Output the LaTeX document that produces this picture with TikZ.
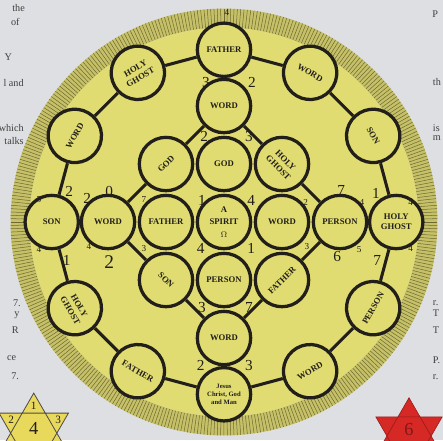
\documentclass[tikz,border=0pt]{standalone}
\usepackage{fontspec}
\setmainfont{Liberation Serif}
\definecolor{page}{RGB}{222,223,226}
\definecolor{disc}{RGB}{224,220,114}
\definecolor{band}{RGB}{198,193,104}
\definecolor{hatch}{RGB}{110,106,48}
\definecolor{ink}{RGB}{34,31,26}
\definecolor{staryel}{RGB}{232,216,92}
\definecolor{starred}{RGB}{214,40,36}
\begin{document}
\begin{tikzpicture}[x=2cm, y=2cm,
  ring/.style={circle, draw=ink, line width=3.2pt, fill=disc,
               minimum size=1.84cm, inner sep=0pt, align=center,
               text=ink, font=\fontsize{8.5}{10}\selectfont\bfseries},
  link/.style={draw=ink, line width=3pt},
  num/.style={inner sep=0pt, text=ink, font=\fontsize{15}{15}\selectfont},
  numsm/.style={inner sep=0pt, text=ink, font=\fontsize{9}{9}\selectfont},
  numbig/.style={inner sep=0pt, text=ink, font=\fontsize{19}{19}\selectfont},
  margin/.style={inner sep=0pt, text=black!75, font=\fontsize{10}{10}\selectfont}
]
  % page and frame
  \fill[page] (-3.862,-3.759) rectangle (3.776,3.828);
  \useasboundingbox (-3.862,-3.759) rectangle (3.776,3.828);
  \fill[band, even odd rule] (0,0) circle (3.68) (0,0) circle (3.35);
  \foreach \a in {0,0.9,...,359.1}
    \draw[hatch, line width=0.5pt] (\a:3.36) -- (\a:3.68);
  \fill[disc] (0,0) circle (3.35);

  % outer ring
  \node[ring] (father1) at (90:2.97) {FATHER};
  \node[ring, rotate=-30] (word1) at (60:2.97) {WORD};
  \node[ring, rotate=-60] (son1) at (30:2.97) {SON};
  \node[ring] (ghost1) at (0:2.97) {HOLY\\GHOST};
  \node[ring, rotate=60] (person1) at (-30:2.97) {PERSON};
  \node[ring, rotate=30] (word2) at (-60:2.97) {WORD};
  \node[ring, font=\fontsize{6.5}{7.5}\selectfont\bfseries] (jesus) at (-90:2.97)
        {Jesus\\Christ, God\\and Man};
  \node[ring, rotate=-30] (father2) at (-120:2.97) {FATHER};
  \node[ring, rotate=-60] (ghost2) at (-150:2.97) {HOLY\\GHOST};
  \node[ring] (son2) at (180:2.97) {SON};
  \node[ring, rotate=60] (word3) at (150:2.97) {WORD};
  \node[ring, rotate=30] (ghost3) at (120:2.97) {HOLY\\GHOST};

  % inner cross
  \node[ring] (word4) at (0,2) {WORD};
  \node[ring, rotate=45] (god1) at (-1,1) {GOD};
  \node[ring] (god2) at (0,1) {GOD};
  \node[ring, rotate=-45] (ghost4) at (1,1) {HOLY\\GHOST};
  \node[ring] (word5) at (-2,0) {WORD};
  \node[ring] (father3) at (-1,0) {FATHER};
  \node[ring, font=\fontsize{8.5}{12}\selectfont\bfseries] (spirit) at (0,0)
        {A\\SPIRIT\\$\Omega$};
  \node[ring] (word6) at (1,0) {WORD};
  \node[ring] (person2) at (2,0) {PERSON};
  \node[ring, rotate=-45] (son3) at (-1,-1) {SON};
  \node[ring] (person3) at (0,-1) {PERSON};
  \node[ring, rotate=45] (father4) at (1,-1) {FATHER};
  \node[ring] (word7) at (0,-2) {WORD};

  \draw[link] (father1) -- (word1) -- (son1) -- (ghost1) -- (person1) -- (word2)
              -- (jesus) -- (father2) -- (ghost2) -- (son2) -- (word3) -- (ghost3)
              -- (father1);
  \draw[link] (word4) -- (god1) -- (word5) -- (son3) -- (word7) -- (father4)
              -- (person2) -- (ghost4) -- (word4);
  \draw[link] (father1) -- (word4);
  \draw[link] (son2) -- (word5);
  \draw[link] (ghost1) -- (person2);
  \draw[link] (jesus) -- (word7);

  % numbers
  \foreach \x/\y/\d [count=\i] in {-0.31/2.41/3, 0.48/2.41/2, -0.34/1.47/2,
      0.43/1.47/3, -0.38/0.38/1, 0.47/0.38/4, -0.4/-0.45/4, 0.47/-0.45/1,
      -2.36/0.41/2, -1.98/0.52/0, -2.67/0.52/2, -2.71/-0.66/1,
      2.02/0.55/7, 1.95/-0.6/6, 2.62/0.5/1, 2.64/-0.66/7,
      -0.38/-1.47/3, 0.43/-1.47/7, -0.4/-2.47/2, 0.43/-2.47/3}
    \node[num] (nb\i) at (\x,\y) {\d};
  \foreach \x/\y/\d [count=\i] in {0.05/3.62/4, -1.38/0.38/7, -1.38/-0.45/3,
      -2.33/-0.43/4, -3.19/0.38/5, -3.19/-0.48/4, 2.38/0.34/4, 2.33/-0.48/5,
      3.22/0.34/4, 3.22/-0.45/4, 1.41/0.34/2, 1.43/-0.43/3}
    \node[numsm] (ns\i) at (\x,\y) {\d};
  \node[numbig] (nl1) at (-1.98,-0.69) {2};

  % page text round the plate
  \node[margin, anchor=east] (m1) at (-3.43,3.69) {the};
  \node[margin, anchor=east] (m2) at (-3.52,3.45) {of};
  \node[margin] (m3) at (-3.72,2.84) {Y};
  \node[margin, anchor=east] (m4) at (-3.45,2.4) {l and};
  \node[margin, anchor=east] (m5) at (-3.45,1.62) {which};
  \node[margin, anchor=east] (m6) at (-3.45,1.4) {talks};
  \node[margin] (m7) at (-3.57,-1.4) {7.};
  \node[margin] (m8) at (-3.57,-1.6) {y};
  \node[margin] (m9) at (-3.6,-1.86) {R};
  \node[margin] (m10) at (-3.66,-2.34) {ce};
  \node[margin] (m11) at (-3.6,-2.66) {7.};
  \node[margin, anchor=west] (m12) at (3.59,3.59) {P};
  \node[margin, anchor=west] (m13) at (3.6,2.41) {th};
  \node[margin, anchor=west] (m14) at (3.6,1.62) {is};
  \node[margin, anchor=west] (m15) at (3.6,1.45) {m};
  \node[margin, anchor=west] (m16) at (3.6,-1.4) {r.};
  \node[margin, anchor=west] (m17) at (3.6,-1.57) {T};
  \node[margin, anchor=west] (m18) at (3.6,-1.86) {T};
  \node[margin, anchor=west] (m19) at (3.6,-2.38) {P.};
  \node[margin, anchor=west] (m20) at (3.6,-2.67) {r.};

  % the two stars
  \begin{scope}[shift={(-3.28,-3.64)}]
    \fill[staryel] (90:0.69) -- (210:0.69) -- (330:0.69) -- cycle
                   (270:0.69) -- (30:0.69) -- (150:0.69) -- cycle;
    \draw[ink!80, line width=0.8pt] (90:0.69) -- (210:0.69) -- (330:0.69) -- cycle
                   (270:0.69) -- (30:0.69) -- (150:0.69) -- cycle;
  \end{scope}
  \node[numsm, font=\fontsize{11}{11}\selectfont] (s1) at (-3.28,-3.16) {1};
  \node[numsm, font=\fontsize{11}{11}\selectfont] (s2) at (-3.67,-3.41) {2};
  \node[numsm, font=\fontsize{11}{11}\selectfont] (s3) at (-2.86,-3.41) {3};
  \node[num, font=\fontsize{18}{18}\selectfont] (s4) at (-3.28,-3.56) {4};
  \begin{scope}[shift={(3.19,-3.69)}]
    \fill[starred] (90:0.66) -- (210:0.66) -- (330:0.66) -- cycle
                   (270:0.66) -- (30:0.66) -- (150:0.66) -- cycle;
    \draw[starred!70!black, line width=0.6pt] (90:0.66) -- (210:0.66) -- (330:0.66) -- cycle
                   (270:0.66) -- (30:0.66) -- (150:0.66) -- cycle;
  \end{scope}
  \node[num, text=starred!60!black, font=\fontsize{18}{18}\selectfont] (s5) at (3.19,-3.58) {6};
\end{tikzpicture}
\end{document}
